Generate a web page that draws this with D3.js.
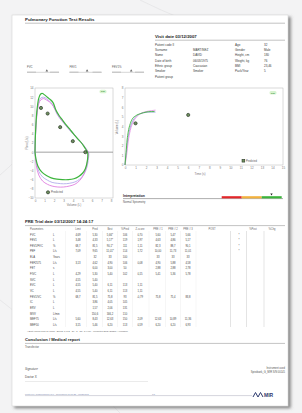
<!DOCTYPE html>
<html>
<head>
<meta charset="utf-8">
<title>Pulmonary Function Test Results</title>
<script src="https://d3js.org/d3.v7.min.js"></script>
<style>
  body { margin: 0; background: #f3f3f4; }
  svg { display: block; font-family: "Liberation Sans", Arial, sans-serif; }
</style>
</head>
<body>
<svg width="302" height="413"></svg>
<script>
// ---- patient / visit info ----
const infoLeftLabels = ["Patient code II", "Surname", "Name", "Date of birth", "Ethnic group", "Smoker", "Patient group"];
const infoLeftValues = ["", "MARTINEZ", "DAVID", "06/03/1975", "Caucasian", "Smoker", ""];
const infoRightLabels = ["Age", "Gender", "Height, cm", "Weight, kg", "BMI", "Pack/Year"];
const infoRightValues = ["32", "Male", "180", "76", "23,46", "5"];

// ---- small gauges ----
const gaugeNames = ["FVC", "FEV1", "FEV1%"];
const gaugePos = [0.62, 0.55, 0.6];

// ---- flow / volume loops (volume L, flow L/s) ----
const fvGreen = [[0,0],[0.05,4],[0.2,9],[0.4,11.8],[0.6,12.7],[0.8,12.8],[1.0,12.5],[1.3,12.0],[1.6,11.5],[1.9,10.8],[2.2,9.2],[2.5,8.1],[2.9,7.0],[3.3,5.9],[3.7,4.9],[4.1,3.9],[4.5,2.9],[4.9,2.0],[5.2,1.1],[5.45,0.3],[5.55,-0.2],
  [5.5,-2.0],[5.3,-3.6],[5.0,-4.6],[4.6,-5.3],[4.1,-5.8],[3.5,-6.0],[2.9,-6.0],[2.3,-5.9],[1.7,-5.6],[1.2,-5.1],[0.7,-4.3],[0.3,-3.0],[0.1,-1.5],[0,0]];
const fvPink = [[0,0],[0.05,3.5],[0.2,8],[0.4,10.6],[0.6,11.4],[0.9,11.7],[1.2,11.4],[1.5,11.0],[1.8,10.4],[2.1,9.4],[2.4,8.2],[2.8,7.0],[3.2,6.0],[3.6,5.0],[4.0,4.1],[4.4,3.2],[4.8,2.3],[5.1,1.5],[5.4,0.6],[5.6,0],
  [5.55,-1.5],[5.4,-3.3],[5.1,-5.0],[4.7,-6.2],[4.2,-7.0],[3.6,-7.4],[3.0,-7.6],[2.4,-7.6],[1.8,-7.4],[1.3,-7.0],[0.8,-6.3],[0.4,-5.0],[0.15,-3.0],[0,0]];
const fvLavender = [[0,0],[0.05,3.8],[0.2,8.5],[0.4,11.0],[0.6,11.8],[0.9,12.0],[1.2,11.7],[1.5,11.2],[1.8,10.5],[2.1,9.3],[2.4,8.0],[2.8,6.9],[3.2,5.9],[3.6,4.9],[4.0,4.0],[4.4,3.1],[4.8,2.2],[5.2,1.3],[5.5,0.4],[5.65,-0.1],
  [5.6,-1.8],[5.45,-3.4],[5.15,-4.8],[4.7,-5.9],[4.2,-6.5],[3.6,-6.8],[3.0,-6.9],[2.4,-6.8],[1.8,-6.6],[1.3,-6.1],[0.8,-5.4],[0.4,-4.2],[0.15,-2.4],[0,0]];
const fvPredVol = [0.63, 1.33, 2.65, 3.98, 5.30];
const fvPredFlow = [9.65, 8.43, 5.46, 2.40, 0];

// ---- volume / time curves (s, L) ----
const vtGreen = [[0,0],[0.1,1.3],[0.2,2.6],[0.3,3.4],[0.5,4.3],[0.7,4.8],[1.0,5.1],[1.5,5.35],[2.0,5.5],[2.5,5.55],[2.8,5.55]];
const vtPink = [[0,0],[0.15,1.0],[0.3,2.4],[0.5,3.6],[0.8,4.5],[1.1,5.0],[1.5,5.35],[2.0,5.55],[2.5,5.65],[2.9,5.7]];
const vtLavender = [[0,0],[0.12,1.2],[0.25,2.5],[0.45,3.7],[0.7,4.5],[1.0,5.0],[1.4,5.3],[1.9,5.45],[2.4,5.5],[2.9,5.5]];
const vtPredTime = [1, 6];
const vtPredVol = [4.33, 5.2];

// ---- interpretation bar ----
const interpColors = ["#e3262a", "#f3b13c", "#3bb33b"];
const interpValue = 0.83;

// ---- results table ----
const tableHeaders = ["Parameters", "", "Limit", "Pred", "Best", "%Pred", "Z-score", "PRE # 1", "PRE # 2", "PRE # 3", "POST", "", "%Post", "%Chg"];
const params = ["FVC","FEV1","FEV1/FVC","PEF","ELA","FEF2575","FET","FIVC","SVC","EVC","VC","FEV1/VC","IC","ERV","MVV","MEF75","MEF50"];
const units = ["L","L","%","L/s","Years","L/s","s","L","L","L","L","%","L","L","L/min","L/s","L/s"];
const limitVals = ["4,69","3,48","68,7","7,09","","3,13","","4,29","4,55","4,55","4,55","68,7","","","","5,60","3,15"];
const predVals = ["5,30","4,33","81,5","9,65","32","4,62","6,00","5,30","5,40","5,40","5,40","81,5","3,86","1,57","150,6","8,43","5,46"];
const bestVals = ["5,66*","5,17*","90,1*","11,01*","33","4,90","3,00","5,40","","6,11","6,11","75,8","4,05","2,06","166,2","12,63","6,20"];
const pctPredVals = ["106","119","111","114","100","106","50","102","","113","113","93","105","131","110","150","113"];
const zVals = ["0,70","1,97","1,11","1,72","","0,08","","0,15","","1,11","1,11","-0,79","","","","2,09","0,59"];
const pre1Vals = ["5,60","4,63","82,3","10,00","33","4,90","2,88","5,41","","","","75,8","","","","12,63","6,20"];
const pre2Vals = ["5,47","4,86","88,7","11,73","33","5,88","2,88","5,36","","","","75,4","","","","10,89","6,20"];
const pre3Vals = ["5,66","5,17","90,1","11,01","33","4,58","2,78","5,78","","","","83,8","","","","11,36","6,93"];
const bestMarks = ["*","*","*","*","","","","","","","","","","","","",""];

const svg = d3.select("svg");
const textCol = "#3a3a3a";

// background decoration
const deco = svg.append("g").attr("fill", "none").attr("stroke", "#e2e2e4").attr("stroke-width", 0.7);
deco.append("path").attr("d", "M0,175 Q30,150 70,95");
deco.append("path").attr("d", "M0,300 Q40,330 120,413");
deco.append("path").attr("d", "M140,0 Q160,10 180,18");

// paper with shadow
const defs = svg.append("defs");
const f = defs.append("filter").attr("id", "sh").attr("x", "-5%").attr("y", "-5%").attr("width", "115%").attr("height", "115%");
f.append("feDropShadow").attr("dx", 2.5).attr("dy", 2).attr("stdDeviation", 1.6).attr("flood-color", "#555").attr("flood-opacity", 0.7);
svg.append("rect").attr("x", 12).attr("y", 15).attr("width", 276).attr("height", 391)
  .attr("fill", "#fff").attr("stroke", "#cfcfcf").attr("stroke-width", 0.5).attr("filter", "url(#sh)");

function rule(y, x1, x2, col) {
  svg.append("line").attr("x1", x1).attr("x2", x2).attr("y1", y).attr("y2", y)
    .attr("stroke", col || "#9a9a9a").attr("stroke-width", 0.6);
}
function txt(x, y, s, size, opts) {
  opts = opts || {};
  return svg.append("text").attr("x", x).attr("y", y).text(s)
    .attr("font-size", size).attr("fill", opts.fill || textCol)
    .attr("font-weight", opts.bold ? "bold" : null)
    .attr("font-style", opts.italic ? "italic" : null)
    .attr("text-anchor", opts.anchor || "start");
}

// title
txt(25, 21, "Pulmonary Function Test Results", 4.4, { bold: true, fill: "#222" });
rule(23.2, 25, 285);

// visit info
txt(155, 38, "Visit date 03/12/2007", 4.3, { bold: true, fill: "#222" });
rule(40.2, 155, 285);
const infoY = d3.scalePoint().domain(d3.range(7)).range([45.5, 77.5]);
infoLeftLabels.forEach((l, i) => {
  txt(155, infoY(i), l, 3, {});
  txt(193, infoY(i), infoLeftValues[i], 3, {});
});
infoRightLabels.forEach((l, i) => {
  txt(235, infoY(i), l, 3, {});
  txt(264, infoY(i), infoRightValues[i], 3, {});
});

// gauges
const gaugeX = d3.scalePoint().domain(gaugeNames).range([27, 112]);
gaugeNames.forEach((n, i) => {
  const gx = gaugeX(n);
  txt(gx, 68, n, 2.8, { fill: "#555" });
  const gs = d3.scaleLinear().domain([0, 1]).range([gx, gx + 32]);
  svg.append("line").attr("x1", gs(0)).attr("x2", gs(1)).attr("y1", 72.3).attr("y2", 72.3)
    .attr("stroke", "#aaa").attr("stroke-width", 0.5);
  svg.append("rect").attr("x", gs(0)).attr("y", 71.6).attr("width", 9).attr("height", 1.4).attr("fill", "#c9c9c9");
  svg.append("rect").attr("x", gs(0.72)).attr("y", 71.6).attr("width", 9).attr("height", 1.4).attr("fill", "#c9c9c9");
  svg.append("path").attr("d", d3.symbol(d3.symbolTriangle, 3)())
    .attr("transform", `translate(${gs(gaugePos[i])},70.8)`).attr("fill", "#666");
});

// ---------- flow / volume chart ----------
const fvX = d3.scaleLinear().domain([0, 8]).range([35, 111]);
const fvY = d3.scaleLinear().domain([-10, 14]).range([198, 88]);
const fv = svg.append("g");
fv.append("rect").attr("x", 35).attr("y", 88).attr("width", 78).attr("height", 110)
  .attr("fill", "none").attr("stroke", "#b5b5b5").attr("stroke-width", 0.5);
fv.append("line").attr("x1", 35).attr("x2", 113).attr("y1", fvY(0)).attr("y2", fvY(0))
  .attr("stroke", "#8a8a8a").attr("stroke-width", 0.8);
const fvAxL = fv.append("g").attr("transform", "translate(35,0)")
  .call(d3.axisLeft(fvY).tickValues(d3.range(-10, 15, 2)).tickSize(0).tickPadding(1.5));
const fvAxB = fv.append("g").attr("transform", "translate(0,198)")
  .call(d3.axisBottom(fvX).ticks(8).tickSize(0).tickPadding(1.5));
[fvAxL, fvAxB].forEach(a => {
  a.select(".domain").remove();
  a.selectAll("text").attr("font-size", 3).attr("fill", "#777");
});
txt(0, 0, "Flow (L/s)", 3, { fill: "#777", anchor: "middle" }).attr("transform", "translate(28,143) rotate(-90)").attr("x", 0).attr("y", 0);
txt(74, 205.5, "Volume (L)", 3, { fill: "#777", anchor: "middle" });

const fvLine = d3.line().x(d => fvX(d[0])).y(d => fvY(d[1])).curve(d3.curveCatmullRom);
[[fvLavender, "#b3adeb", 0.9], [fvPink, "#e07ee0", 0.9], [fvGreen, "#3db53d", 1.2]].forEach(c => {
  fv.append("path").attr("d", fvLine(c[0])).attr("fill", "none").attr("stroke", c[1]).attr("stroke-width", c[2]);
});
fv.selectAll(".pd").data(fvPredVol).enter().append("circle")
  .attr("cx", d => fvX(d)).attr("cy", (d, i) => fvY(fvPredFlow[i])).attr("r", 1.6)
  .attr("fill", "#6f8f5e").attr("stroke", "#1f2a1f").attr("stroke-width", 0.6);
fv.append("circle").attr("cx", 48).attr("cy", 192.3).attr("r", 1.6)
  .attr("fill", "#6f8f5e").attr("stroke", "#1f2a1f").attr("stroke-width", 0.6);
txt(51, 193.3, "Predicted", 2.8, { fill: "#555" });
fv.append("rect").attr("x", 99.5).attr("y", 89.8).attr("width", 7).attr("height", 3.4).attr("rx", 1.5).attr("fill", "#d8f3d0");
txt(103, 92.3, "Pre", 2.5, { fill: "#2f8a2f", anchor: "middle", bold: true });

// ---------- volume / time chart ----------
const vtX = d3.scaleLinear().domain([0, 15]).range([125, 283]);
const vtY = d3.scaleLinear().domain([0, 8]).range([165, 88]);
const vt = svg.append("g");
vt.append("rect").attr("x", 125).attr("y", 88).attr("width", 158).attr("height", 77)
  .attr("fill", "none").attr("stroke", "#b5b5b5").attr("stroke-width", 0.5);
const vtAxL = vt.append("g").attr("transform", "translate(125,0)")
  .call(d3.axisLeft(vtY).ticks(8).tickSize(0).tickPadding(1.5));
const vtAxB = vt.append("g").attr("transform", "translate(0,165)")
  .call(d3.axisBottom(vtX).ticks(15).tickSize(0).tickPadding(1.5));
[vtAxL, vtAxB].forEach(a => {
  a.select(".domain").remove();
  a.selectAll("text").attr("font-size", 3).attr("fill", "#777");
});
txt(0, 0, "Volume (L)", 3, { fill: "#777", anchor: "middle" }).attr("transform", "translate(118,127) rotate(-90)");
txt(200, 174.5, "Time (s)", 3, { fill: "#777", anchor: "middle" });
const vtLine = d3.line().x(d => vtX(d[0])).y(d => vtY(d[1])).curve(d3.curveMonotoneX);
[[vtLavender, "#8f9ad8", 0.8], [vtPink, "#e08ae0", 0.8], [vtGreen, "#3db53d", 0.9]].forEach(c => {
  vt.append("path").attr("d", vtLine(c[0])).attr("fill", "none").attr("stroke", c[1]).attr("stroke-width", c[2]);
});
vt.selectAll(".pd").data(vtPredTime).enter().append("circle")
  .attr("cx", d => vtX(d)).attr("cy", (d, i) => vtY(vtPredVol[i])).attr("r", 1.6)
  .attr("fill", "#6f8f5e").attr("stroke", "#1f2a1f").attr("stroke-width", 0.6);
vt.append("rect").attr("x", 242).attr("y", 159.3).attr("width", 2.8).attr("height", 2.8)
  .attr("fill", "#6f8f5e").attr("stroke", "#1f2a1f").attr("stroke-width", 0.5);
txt(246, 161.8, "Predicted", 2.6, { fill: "#555" });
vt.append("rect").attr("x", 269.5).attr("y", 91).attr("width", 7).attr("height", 3.4).attr("rx", 1.5).attr("fill", "#d8f3d0");
txt(273, 93.5, "Pre", 2.5, { fill: "#2f8a2f", anchor: "middle", bold: true });

// ---------- interpretation ----------
txt(123, 197.2, "Interpretation", 3.4, { bold: true, fill: "#222" });
rule(198.6, 123, 283, "#777");
txt(123, 202.8, "Normal Spirometry", 2.7, { fill: "#555" });
const bandX = d3.scaleBand().domain(interpColors).range([221.7, 281.7]);
svg.selectAll(".ib").data(interpColors).enter().append("rect")
  .attr("x", d => bandX(d)).attr("y", 196.2).attr("width", bandX.bandwidth()).attr("height", 2.2).attr("fill", d => d);
const markX = d3.scaleLinear().domain([0, 1]).range([221.7, 281.7]);
svg.append("path").attr("d", d3.symbol(d3.symbolTriangle, 2.5)())
  .attr("transform", `translate(${markX(interpValue)},194.2) rotate(180)`).attr("fill", "#222");

// ---------- results table ----------
txt(25, 223, "PRE Trial date 03/12/2007     14:24:17", 4.2, { bold: true, fill: "#222" });
rule(225.6, 25, 285);
const colX = [30, 53, 78, 95, 110, 125, 140, 158, 173, 188, 212, 239, 253, 272];
const colAnchor = ["start", "start", "middle", "middle", "middle", "middle", "middle", "middle", "middle", "middle", "middle", "middle", "middle", "middle"];
tableHeaders.forEach((h, i) => txt(colX[i], 229.6, h, 2.6, { fill: "#666", anchor: colAnchor[i] }));
const rowY = d3.scalePoint().domain(params).range([234.5, 325]);
const tableCols = [params, units, limitVals, predVals, bestVals, pctPredVals, zVals, pre1Vals, pre2Vals, pre3Vals, null, bestMarks];
[65.5, 86.5, 102.5, 117.5, 132.5, 149, 165.5, 180.5, 196, 230.5, 246.5, 264].forEach(x => {
  svg.append("line").attr("x1", x).attr("x2", x).attr("y1", 231).attr("y2", 327)
    .attr("stroke", x > 229 ? "#c8c8c8" : "#ececec").attr("stroke-width", 0.5);
});
tableCols.forEach((col, ci) => {
  if (!col) return;
  col.forEach((v, ri) => {
    if (v === "") return;
    txt(colX[ci], rowY(params[ri]) + 1, v, 2.7, { fill: "#444", anchor: colAnchor[ci] });
  });
});
txt(27, 331.5, "* Best values from all loops - BTPS: 1,092 \u00b7 20 \u00b0C \u00b7 23 \u00b0C (Hm) - Predicted ERS (ECSC) / Knudson", 2.3, { fill: "#666" });

// ---------- conclusion ----------
txt(25, 341, "Conclusion / Medical report", 4.2, { bold: true, fill: "#222" });
rule(343.4, 25, 285);
txt(25, 348, "Transfector", 2.8, { fill: "#555" });
txt(25, 370, "Signature", 3, { italic: true, fill: "#555" });
txt(25, 377.5, "Doctor X", 3, { fill: "#444" });
rule(381.5, 25, 148, "#ddd");
txt(285, 368.5, "Instrument used", 2.6, { fill: "#555", anchor: "end" });
txt(285, 372.6, "Spirobank_G_MIR S/N 00145", 2.6, { fill: "#555", anchor: "end" });

// ---------- footer ----------
txt(25, 394.8, "printed by: winspiroPRO 6.5.0 - 21/08/2008 10:18:25 - WinSPIRO", 2.2, { fill: "#7d8bb0" });
txt(152, 394.8, "1/1", 2.2, { fill: "#7d8bb0" });
rule(395.6, 25, 252, "#b8b8c4");
svg.append("path").attr("d", "M253,397 L255.5,392.5 L258,397 L260.5,392.5 L263,397")
  .attr("fill", "none").attr("stroke", "#2d3a6e").attr("stroke-width", 1);
txt(264, 397, "MIR", 5, { bold: true, fill: "#2d3a6e" });
</script>
</body>
</html>
